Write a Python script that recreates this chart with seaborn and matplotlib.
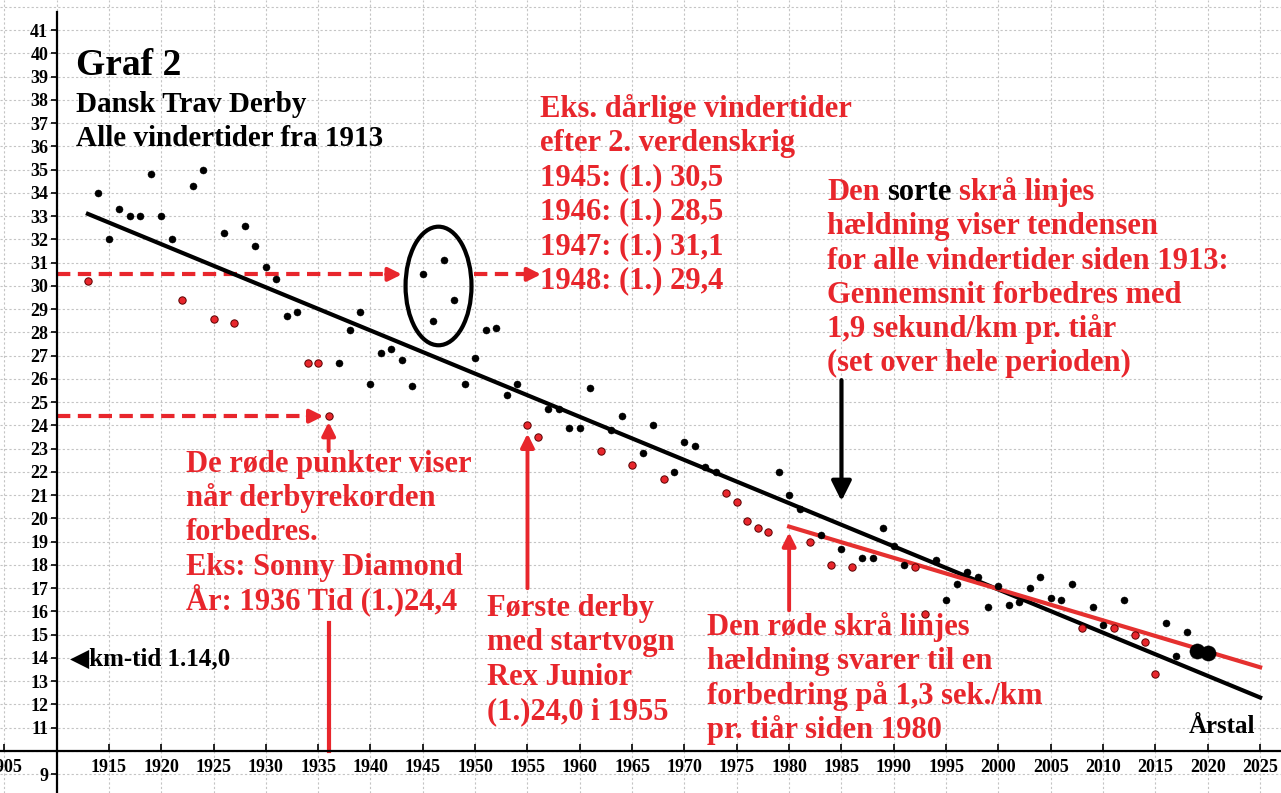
import numpy as np
import pandas as pd
import matplotlib
matplotlib.use("Agg")
import matplotlib.pyplot as plt
import seaborn as sns
from matplotlib.patches import Ellipse
from matplotlib.ticker import MultipleLocator

# ---------------- data ----------------
years_black = [1914, 1915, 1916, 1917, 1918, 1919, 1920, 1921, 1923, 1924, 1926, 1928,
               1929, 1930, 1931, 1932, 1933, 1937, 1938, 1939, 1940, 1941, 1942, 1943,
               1944, 1945, 1946, 1947, 1948, 1949, 1950, 1951, 1952, 1953, 1954, 1957,
               1958, 1959, 1960, 1961, 1963, 1964, 1966, 1967, 1969, 1970, 1971, 1972,
               1973, 1979, 1980, 1981, 1983, 1985, 1987, 1988, 1989, 1990, 1991, 1994,
               1995, 1996, 1997, 1998, 1999, 2000, 2001, 2002, 2003, 2004, 2005, 2006,
               2007, 2009, 2010, 2012, 2016, 2017, 2018]
times_black = [34.0, 32.0, 33.3, 33.0, 33.0, 34.8, 33.0, 32.0, 34.3, 35.0, 32.3, 32.6,
               31.7, 30.8, 30.3, 28.7, 28.9, 26.7, 28.1, 28.9, 25.8, 27.1, 27.3, 26.8,
               25.7, 30.5, 28.5, 31.1, 29.4, 25.8, 26.9, 28.1, 28.2, 25.3, 25.8, 24.7,
               24.7, 23.9, 23.9, 25.6, 23.8, 24.4, 22.8, 24.0, 22.0, 23.3, 23.1, 22.2,
               22.0, 22.0, 21.0, 20.4, 19.3, 18.7, 18.3, 18.3, 19.6, 18.8, 18.0, 18.2,
               16.5, 17.2, 17.7, 17.5, 16.2, 17.1, 16.3, 16.4, 17.0, 17.5, 16.6, 16.5,
               17.2, 16.2, 15.4, 16.5, 15.5, 14.1, 15.1]

years_record = [1913, 1922, 1925, 1927, 1934, 1935, 1936, 1955, 1956, 1962, 1965, 1968,
                1974, 1975, 1976, 1977, 1978, 1982, 1984, 1986, 1992, 1993, 2008, 2011,
                2013, 2014, 2015]
times_record = [30.2, 29.4, 28.6, 28.4, 26.7, 26.7, 24.4, 24.0, 23.5, 22.9, 22.3, 21.7,
                21.1, 20.7, 19.9, 19.6, 19.4, 19.0, 18.0, 17.9, 17.9, 15.9, 15.3, 15.3,
                15.0, 14.7, 13.3]

years_recent = [2019, 2020]
times_recent = [14.3, 14.2]

trend_all_years = [1913, 2025]
trend_all_times = [33.1, 12.3]
trend_1980_years = [1980, 2025]
trend_1980_times = [19.65, 13.6]

x_ticks = [1905, 1915, 1920, 1925, 1930, 1935, 1940, 1945, 1950, 1955, 1960, 1965,
           1970, 1975, 1980, 1985, 1990, 1995, 2000, 2005, 2010, 2015, 2020, 2025]
x_tick_labels = [str(v) for v in x_ticks]
y_ticks = [9] + list(range(11, 42))
y_tick_labels = [str(v) for v in y_ticks]

# ---------------- figure ----------------
RED = "#e8262c"
SERIF = "Liberation Serif"
W, H = 1281, 793
X0, PX_PER_YEAR = 1904.6, 10.466
Y1, PX_PER_UNIT = 42.3, 23.25
X1 = X0 + W / PX_PER_YEAR
Y0 = Y1 - H / PX_PER_UNIT

fig = plt.figure(figsize=(W / 100, H / 100), dpi=100)
ax = fig.add_axes([0, 0, 1, 1])
ax.set_xlim(X0, X1)
ax.set_ylim(Y0, Y1)


def P(px, py):
    return (px / W, 1 - py / H)


# spines
for s in ["top", "right"]:
    ax.spines[s].set_visible(False)
ax.spines["left"].set_position(("data", 1910))
ax.spines["bottom"].set_position(("data", 10))
ax.spines["left"].set_bounds(Y0, 41.8)
for s in ["left", "bottom"]:
    ax.spines[s].set_linewidth(1.6)
    ax.spines[s].set_zorder(6)

# points
sns.scatterplot(x=years_black, y=times_black, color="black", s=26, edgecolor="black",
                linewidth=0.3, ax=ax, zorder=6, legend=False)
sns.scatterplot(x=years_record, y=times_record, color=RED, s=28, edgecolor="#5a0000",
                linewidth=0.7, ax=ax, zorder=6, legend=False)
sns.scatterplot(x=years_recent, y=times_recent, color="black", s=120, edgecolor="black",
                linewidth=0.3, ax=ax, zorder=7, legend=False)

# trend lines
sns.lineplot(x=trend_all_years, y=trend_all_times, color="black", lw=3, ax=ax,
             zorder=4, legend=False)
sns.lineplot(x=trend_1980_years, y=trend_1980_times, color="#e5302f", lw=3, ax=ax,
             zorder=5, legend=False)
ax.set_xlabel("")
ax.set_ylabel("")

# ticks
ax.set_xticks(x_ticks)
ax.set_xticklabels(x_tick_labels)
ax.set_yticks(y_ticks)
ax.set_yticklabels(y_tick_labels)
ax.tick_params(axis="x", which="major", direction="in", length=5, width=1.2, pad=6)
ax.tick_params(axis="y", which="major", direction="out", length=4, width=1.2, pad=2)
for lbl in ax.get_xticklabels() + ax.get_yticklabels():
    lbl.set_fontfamily(SERIF)
    lbl.set_fontweight("bold")
    lbl.set_fontsize(13)

# grid (every year-5 and every unit)
ax.xaxis.set_minor_locator(MultipleLocator(5))
ax.yaxis.set_minor_locator(MultipleLocator(1))
ax.tick_params(which="minor", length=0)
ax.grid(which="both", color="#c4c4c4", lw=0.8, ls=(0, (2, 2)))
ax.set_axisbelow(True)

# ellipse around 1945-48
ax.add_patch(Ellipse((1946.5, 30.0), 6.3, 5.1, fill=False, lw=3, ec="black", zorder=5))


def head(x0, y0, x1, y1, color=RED, ms=20, lw=2.8):
    ax.annotate("", xy=(x1, y1), xytext=(x0, y0),
                arrowprops=dict(arrowstyle="-|>", color=color, lw=lw,
                                mutation_scale=ms, shrinkA=0, shrinkB=0),
                zorder=5)


# dashed arrows
ax.plot([1910, 1942.0], [30.5, 30.5], color=RED, lw=3, ls=(0, (3.2, 1.8)), zorder=3)
head(1941.5, 30.5, 1943.0, 30.5)
ax.plot([1949.9, 1955.3], [30.5, 30.5], color=RED, lw=3, ls=(0, (3.2, 1.8)), zorder=3)
head(1954.8, 30.5, 1956.3, 30.5)
ax.plot([1910, 1934.5], [24.4, 24.4], color=RED, lw=3, ls=(0, (3.2, 1.8)), zorder=3)
head(1934.0, 24.4, 1935.5, 24.4)

# vertical arrows
ax.plot([1936, 1936], [10, 15.5], color=RED, lw=3, zorder=3)
head(1936, 22.9, 1936, 24.15)
head(1955, 17.0, 1955, 23.65)
head(1980, 16.05, 1980, 19.4)
head(1985, 25.95, 1985, 20.75, color="black", ms=30, lw=3)

# ---------------- texts ----------------
def txt(px, py, s, size=22, color=RED, family=SERIF):
    return ax.text(*P(px, py), s, transform=ax.transAxes, ha="left", va="baseline",
                   fontsize=size, fontweight="bold", color=color, family=family,
                   zorder=8)


txt(76, 75, "Graf 2", size=27, color="black")
txt(76, 112, "Dansk Trav Derby", size=21, color="black")
txt(76, 146, "Alle vindertider fra 1913", size=21, color="black")

LS = 34.3
block_a = ["Eks. dårlige vindertider", "efter 2. verdenskrig", "1945: (1.) 30,5",
           "1946: (1.) 28,5", "1947: (1.) 31,1", "1948: (1.) 29,4"]
for i, s in enumerate(block_a):
    txt(540, 116.7 + i * LS, s)

# first line of block B in mixed colours
t1 = txt(827, 200, "Den")
t2 = ax.annotate("sorte", xy=(1, 0), xycoords=t1, xytext=(5.5, 0),
                 textcoords="offset points", ha="left", va="bottom", fontsize=22,
                 fontweight="bold", color="black", family=SERIF, zorder=8)
ax.annotate("skrå linjes", xy=(1, 0), xycoords=t2, xytext=(5.5, 0),
            textcoords="offset points", ha="left", va="bottom", fontsize=22,
            fontweight="bold", color=RED, family=SERIF, zorder=8)
block_b = ["hældning viser tendensen", "for alle vindertider siden 1913:",
           "Gennemsnit forbedres med", "1,9 sekund/km pr. tiår", "(set over hele perioden)"]
for i, s in enumerate(block_b):
    txt(827, 200 + (i + 1) * LS, s)

block_c = ["De røde punkter viser", "når derbyrekorden", "forbedres.",
           "Eks: Sonny Diamond", "År: 1936 Tid (1.)24,4"]
for i, s in enumerate(block_c):
    txt(186, 471.7 + i * LS, s)

block_d = ["Første derby", "med startvogn", "Rex Junior", "(1.)24,0 i 1955"]
for i, s in enumerate(block_d):
    txt(487, 616 + i * LS, s)

block_e = ["Den røde skrå linjes", "hældning svarer til en", "forbedring på 1,3 sek./km",
           "pr. tiår siden 1980"]
for i, s in enumerate(block_e):
    txt(707, 635 + i * LS, s)

txt(70, 665, "◀km-tid 1.14,0", size=18, color="black", family=[SERIF, "DejaVu Sans"])
txt(1189, 733, "Årstal", size=18, color="black")

fig.savefig("out.png", dpi=100)
